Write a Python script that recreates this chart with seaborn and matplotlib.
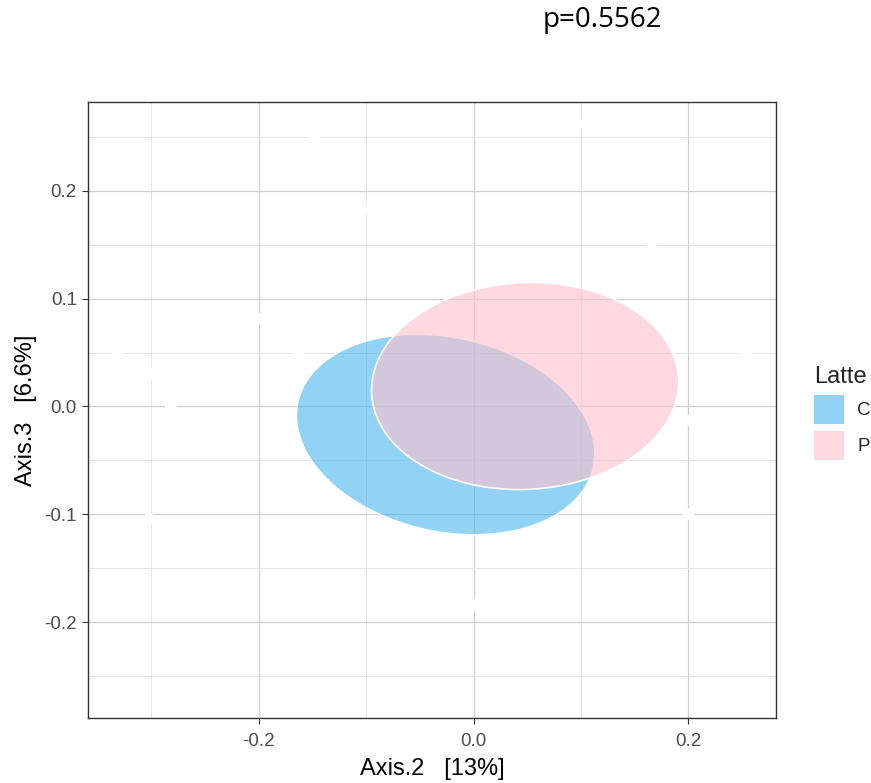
import numpy as np
import pandas as pd
import matplotlib
matplotlib.use("Agg")
import matplotlib.pyplot as plt
from matplotlib.patches import Patch
from matplotlib.ticker import MultipleLocator, FormatStrFormatter
import seaborn as sns

# Group ellipses (stat_ellipse style): centre, half-extent along each axis, correlation
groups = ["C", "P"]
centre_x = [-0.026, 0.048]
centre_y = [-0.026, 0.019]
half_x = [0.139, 0.143]
half_y = [0.093, 0.096]
corr = [-0.19, 0.04]
fill_colors = ["#4AB4EE", "#FFC0CB"]

# Sample coordinates (drawn in white)
sample_x = [-0.148, -0.100, -0.200, 0.100, 0.166, -0.332, -0.163, -0.282,
            -0.300, -0.302, 0.200, 0.200, 0.253, 0.000]
sample_y = [0.250, 0.183, 0.081, 0.262, 0.150, 0.050, 0.050, 0.000,
            0.030, -0.104, -0.013, -0.100, 0.050, -0.184]

legend_title = "Latte"
x_label = "Axis.2   [13%]"
y_label = "Axis.3   [6.6%]"
p_text = "p=0.5562"

sns.set_theme(style="white")
plt.rcParams["font.family"] = ["Liberation Sans", "DejaVu Sans"]

fig = plt.figure(figsize=(8.71, 7.83), dpi=100)
ax = fig.add_axes([88 / 871, 1 - 718 / 783, 688 / 871, 616 / 783])

ax.set_xlim(-0.359, 0.2816)
ax.set_ylim(-0.2889, 0.2824)

# grid
ax.xaxis.set_major_locator(MultipleLocator(0.2))
ax.xaxis.set_minor_locator(MultipleLocator(0.1))
ax.yaxis.set_major_locator(MultipleLocator(0.1))
ax.yaxis.set_minor_locator(MultipleLocator(0.05))
ax.xaxis.set_major_formatter(FormatStrFormatter("%.1f"))
ax.yaxis.set_major_formatter(FormatStrFormatter("%.1f"))
ax.set_axisbelow(True)
ax.grid(which="major", color="#D0D0D0", linewidth=0.9)
ax.grid(which="minor", color="#E4E4E4", linewidth=0.7)
ax.tick_params(which="minor", length=0)
ax.tick_params(which="major", direction="out", length=4.5, width=0.8,
               color="#333333", labelsize=13.5, labelcolor="#4D4D4D",
               bottom=True, left=True)
ax.tick_params(axis="x", which="major", pad=6.0)
ax.tick_params(axis="y", which="major", pad=3.5)

# white sample points
samples = pd.DataFrame({"x": sample_x, "y": sample_y})
sns.scatterplot(data=samples, x="x", y="y", color="white", s=70,
                edgecolor="none", ax=ax, zorder=2, legend=False)

# ellipses
t = np.linspace(0, 2 * np.pi, 361)
for cx, cy, hx, hy, r, col in zip(centre_x, centre_y, half_x, half_y, corr, fill_colors):
    ex = cx + hx * np.cos(t)
    ey = cy + hy * (r * np.cos(t) + np.sqrt(1 - r ** 2) * np.sin(t))
    ax.fill(ex, ey, facecolor=matplotlib.colors.to_rgba(col, 0.6),
            edgecolor="white", linewidth=1.2, zorder=3)

for side in ax.spines.values():
    side.set_visible(True)
    side.set_color("#333333")
    side.set_linewidth(1.0)

ax.set_xlabel(x_label, fontsize=17, color="black", labelpad=6.0)
ax.set_ylabel(y_label, fontsize=17, color="black", labelpad=5.0)

handles = [Patch(facecolor=matplotlib.colors.to_rgba(c, 0.6), edgecolor="none")
           for c in fill_colors]
leg = fig.legend(handles, groups, title=legend_title, loc="upper left",
                 bbox_to_anchor=(814 / 871, 1 - 366 / 783), frameon=False,
                 fontsize=13.5, title_fontsize=17, handlelength=1.6,
                 handleheight=2.0, labelspacing=0.37, handletextpad=0.7,
                 borderpad=0, borderaxespad=0, alignment="left")

fig.text(602 / 871, 1 - 20 / 783, p_text, ha="center", va="center",
         fontsize=20, family=["Open Sans", "DejaVu Sans"], color="black")

fig.savefig("out.png", dpi=100)
